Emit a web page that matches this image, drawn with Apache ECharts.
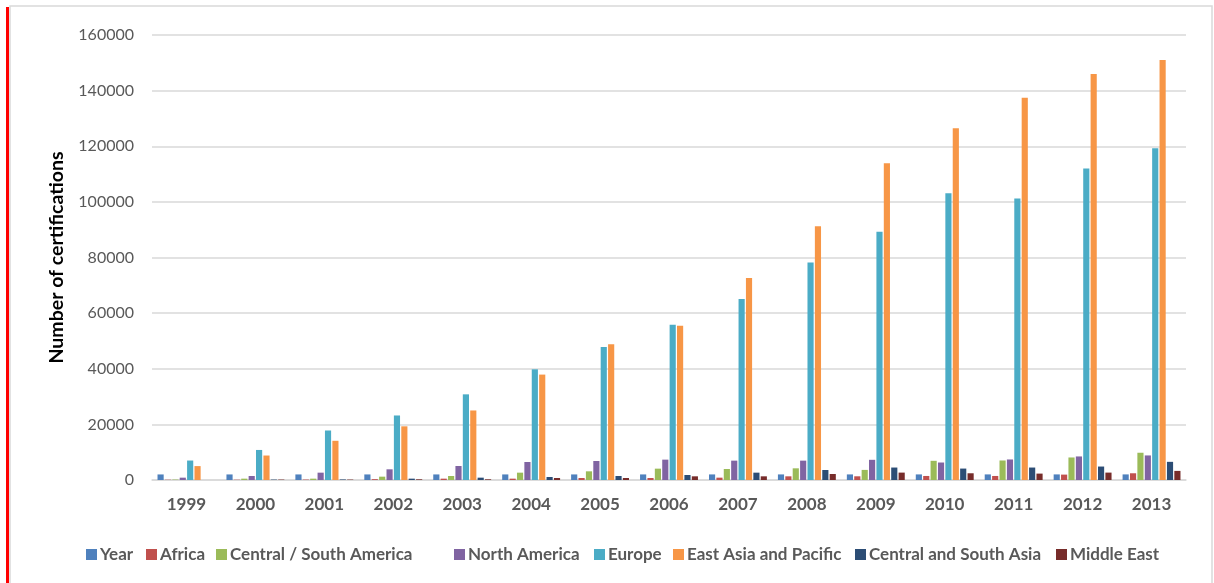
<!DOCTYPE html>
<html>
<head>
<meta charset="utf-8">
<script src="https://cdn.jsdelivr.net/npm/echarts@6/dist/echarts.min.js"></script>
<style>
html,body{margin:0;padding:0;background:#fff;}
#chart{width:1214px;height:583px;}
</style>
</head>
<body>
<div id="chart"></div>
<script>
var categories = ['1999','2000','2001','2002','2003','2004','2005','2006','2007','2008','2009','2010','2011','2012','2013'];
var seriesNames = ['Year','Africa','Central / South America','North America','Europe','East Asia and Pacific','Central and South Asia','Middle East'];
var yearVals = [1999,2000,2001,2002,2003,2004,2005,2006,2007,2008,2009,2010,2011,2012,2013];
var africa = [100,100,150,300,480,480,720,720,840,1320,1330,1450,1450,1940,2420];
var centralSouthAmerica = [150,480,480,1200,1440,2640,3120,4080,3960,4200,3630,6900,7020,8100,9800];
var northAmerica = [840,1440,2640,3840,5040,6480,6840,7320,6960,6960,7260,6290,7380,8470,8830];
var europe = [7000,10800,17800,23200,30800,39800,47800,55800,65100,78200,89300,103100,101200,112000,119300];
var eastAsiaPacific = [5000,8800,14100,19300,25000,37900,48800,55500,72600,91200,113900,126500,137400,146000,151000];
var centralSouthAsia = [0,150,200,480,840,1080,1440,1800,2640,3600,4480,4110,4480,4840,6530];
var middleEast = [0,150,150,250,250,720,720,1320,1320,2160,2660,2420,2300,2660,3270];
var yTicks = [0,20000,40000,60000,80000,100000,120000,140000,160000];

var dataSets = [yearVals, africa, centralSouthAmerica, northAmerica, europe, eastAsiaPacific, centralSouthAsia, middleEast];
var colors = ['#4F81BD','#C0504D','#9BBB59','#8064A2','#4BACC6','#F79646','#2C4D75','#772C2A'];
var legendLefts = [81,141,211,449,589,668,850,1051];

var FONT = 'Lato, "Open Sans", sans-serif';

var series = seriesNames.map(function(n,i){
  return {
    name:n, type:'bar', data:dataSets[i],
    barGap:'20%', barCategoryGap:'16%',
    itemStyle:{color:colors[i]},
    emphasis:{disabled:true}
  };
});

var legends = seriesNames.map(function(n,i){
  return {
    data:[n], left:legendLefts[i], top:541,
    itemWidth:11, itemHeight:11, itemGap:0,
    icon:'rect',
    textStyle:{fontFamily:FONT, fontSize:17, fontWeight:'bold', color:'#595959', padding:[0,0,0,-2]},
    selectedMode:false
  };
});

var chart = echarts.init(document.getElementById('chart'), null, {renderer:'canvas'});
chart.setOption({
  animation:false,
  color:colors,
  grid:{left:152, right:28, top:35, bottom:103, containLabel:false},
  legend:legends,
  xAxis:{
    type:'category', data:categories,
    axisLine:{lineStyle:{color:'#D9D9D9', width:1.5}},
    axisTick:{show:false},
    axisLabel:{fontFamily:FONT, fontSize:17, fontWeight:'bold', color:'#595959', margin:16}
  },
  yAxis:{
    type:'value', min:yTicks[0], max:yTicks[yTicks.length-1], interval:yTicks[1]-yTicks[0],
    name:'Number of certifications', nameLocation:'middle', nameGap:85,
    nameTextStyle:{fontFamily:FONT, fontSize:19.5, fontWeight:'bold', color:'#000'},
    axisLine:{show:false}, axisTick:{show:false},
    splitLine:{lineStyle:{color:'#D9D9D9', width:1.5}},
    axisLabel:{fontFamily:FONT, fontSize:16, color:'#595959', margin:18,
      formatter:function(v){ return String(v); }}
  },
  graphic:[
    {type:'rect', z:-1, shape:{x:10, y:6, width:1202, height:600}, style:{fill:'none', stroke:'#D9D9D9', lineWidth:1.5}, silent:true},
    {type:'rect', z:10, shape:{x:6, y:7, width:3, height:580}, style:{fill:'#FF0000'}, silent:true}
  ],
  series:series
});
</script>
</body>
</html>
